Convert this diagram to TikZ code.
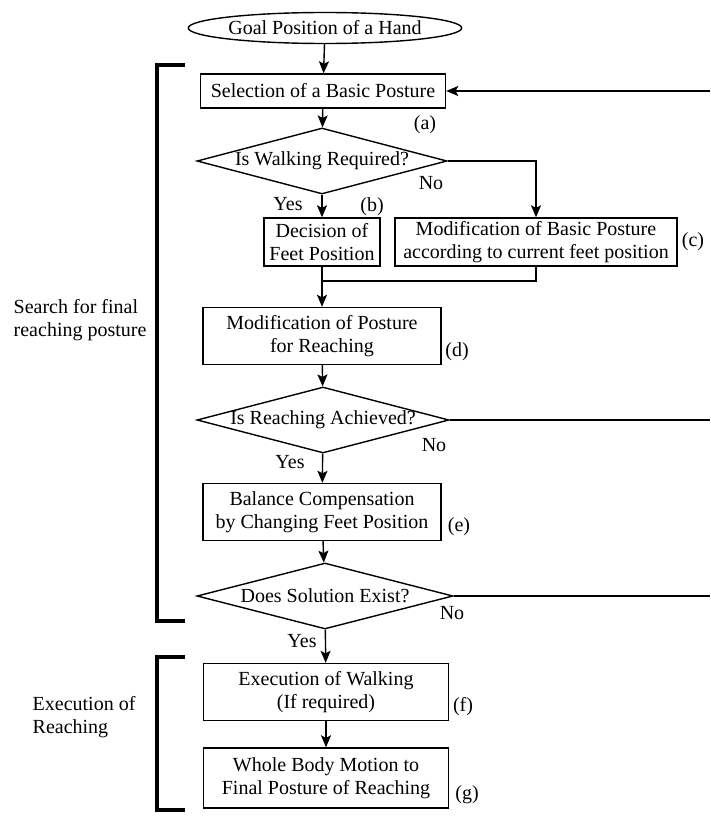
\documentclass[tikz,border=0pt]{standalone}
\usepackage{fontspec}
\setmainfont{Liberation Serif}
\newfontfamily\chartfont{Liberation Serif}
\usetikzlibrary{positioning,arrows.meta,shapes.geometric}

\begin{document}
\begin{tikzpicture}[x=1pt, y=-1pt, line width=1.4pt,
  font=\chartfont\fontsize{20}{23.5}\selectfont,
  stepbox/.style={draw, rectangle, align=center, inner sep=0pt},
  startnode/.style={draw, ellipse, inner sep=0pt, minimum width=228pt, minimum height=31pt},
  decision/.style={draw, diamond, inner sep=0pt, minimum height=66pt},
  tag/.style={inner sep=0pt, align=left},
  arr/.style={-{Stealth[length=12pt, width=10pt, inset=2.5pt]}},
  bracket/.style={line width=3.4pt},
]
\useasboundingbox (0,0) rectangle (710,816);

% main column
\node[startnode] (goal) at (325,28) {Goal Position of a Hand};
\node[stepbox, minimum width=245pt, minimum height=34pt] (sel) at (323,91) {Selection of a Basic Posture};
\node[decision, minimum width=250pt, label=center:{Is Walking Required?}] (walk) at (322,161) {};
\node[stepbox, minimum width=116pt, minimum height=48pt] (feet) at (322,242) {Decision of\\Feet Position};
\node[stepbox, minimum width=282pt, minimum height=48pt] (mod) at (536,242) {Modification of Basic Posture\\according to current feet position};
\node[stepbox, minimum width=238pt, minimum height=57pt] (reach) at (322,336) {Modification of Posture\\for Reaching};
\node[decision, minimum width=252pt, label=center:{Is Reaching Achieved?}] (ok) at (323,420) {};
\node[stepbox, minimum width=238pt, minimum height=57pt] (bal) at (322,512) {Balance Compensation\\by Changing Feet Position};
\node[decision, minimum width=256pt, label=center:{Does Solution Exist?}] (sol) at (325,596) {};
\node[stepbox, minimum width=245pt, minimum height=57pt] (walkex) at (326,692) {Execution of Walking\\(If required)};
\node[stepbox, minimum width=245pt, minimum height=60pt] (whole) at (326,778) {Whole Body Motion to\\Final Posture of Reaching};

% small labels
\node[tag] (la) at (425,125) {(a)};
\node[tag] (lb) at (372,207) {(b)};
\node[tag] (lc) at (693,242) {(c)};
\node[tag] (ld) at (457,352) {(d)};
\node[tag] (le) at (459,527) {(e)};
\node[tag] (lf) at (463,707) {(f)};
\node[tag] (lg) at (467,795) {(g)};
\node[tag] (no1) at (431,183) {No};
\node[tag] (yes1) at (288,204) {Yes};
\node[tag] (no2) at (434,445) {No};
\node[tag] (yes2) at (290,462) {Yes};
\node[tag] (no3) at (452,613) {No};
\node[tag] (yes3) at (302,641) {Yes};
\node[tag, anchor=west] (search) at (13,320) {Search for final\\reaching posture};
\node[tag, anchor=west] (exec) at (32,717) {Execution of\\Reaching};

% right edge
\coordinate (edge) at (710,0);
\coordinate (merge) at (322,281);

\draw[arr] (goal) -- (sel);
\draw[arr] (sel) -- (walk);
\draw[arr] (walk) -- (feet);
\draw[arr] (walk.east) -| (mod.north);
\draw (feet.south) -- (merge);
\draw (mod.south) |- (merge);
\draw[arr] (merge) -- (reach);
\draw[arr] (reach) -- (ok);
\draw[arr] (ok) -- (bal);
\draw[arr] (bal) -- (sol);
\draw[arr] (sol) -- (walkex);
\draw[arr] (walkex) -- (whole);
\draw[arr] (sel.east -| edge) -- (sel.east);
\draw (ok.east) -- (ok.east -| edge);
\draw (sol.east) -- (sol.east -| edge);

% brackets
\draw[bracket] (185,65) -| (157,621) -- (185,621);
\draw[bracket] (185,657) -| (157,810) -- (185,810);
\end{tikzpicture}
\end{document}
